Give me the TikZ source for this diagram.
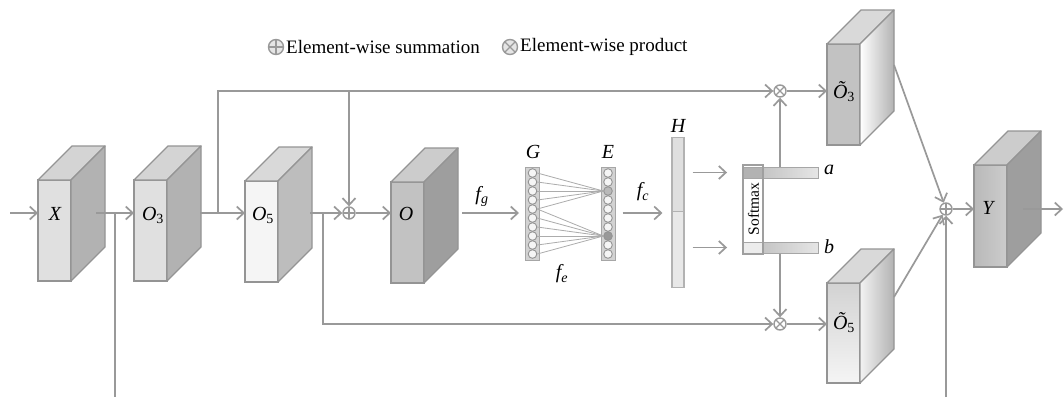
\documentclass[tikz,border=0pt]{standalone}
\usepackage{fontspec}
\setmainfont{Liberation Serif}
\usetikzlibrary{arrows.meta,calc}
\definecolor{lc}{gray}{0.60}
\definecolor{ec}{gray}{0.58}
\definecolor{fa}{gray}{0.88}
\definecolor{sa}{gray}{0.70}
\definecolor{ta}{gray}{0.83}
\definecolor{fb}{gray}{0.96}
\definecolor{sb}{gray}{0.74}
\definecolor{tb}{gray}{0.85}
\definecolor{fo}{gray}{0.76}
\definecolor{so}{gray}{0.62}
\definecolor{to}{gray}{0.80}
\tikzset{
 ln/.style={draw=lc, line width=1.7pt},
 arr/.style={ln, -{Straight Barb[length=7pt,width=13pt]}},
 front/.style={draw=ec, line width=1.3pt, minimum width=33pt, inner sep=0pt, outer sep=0pt, anchor=north west},
 face/.style={draw=ec, line width=1.3pt, line join=round},
 lbl/.style={font=\fontsize{20}{24}\selectfont\itshape, inner sep=1pt},
 lgd/.style={font=\fontsize{19}{22}\selectfont, inner sep=0pt, anchor=west},
 sumop/.style={circle, draw=lc, line width=1.4pt, minimum size=12pt, inner sep=0pt, fill=white,
   path picture={\draw[lc,line width=1.3pt] (path picture bounding box.north) -- (path picture bounding box.south)
   (path picture bounding box.west) -- (path picture bounding box.east);}},
 prodop/.style={circle, draw=lc, line width=1.4pt, minimum size=12pt, inner sep=0pt, fill=white,
   path picture={\draw[lc,line width=1.3pt] (path picture bounding box.north west) -- (path picture bounding box.south east)
   (path picture bounding box.north east) -- (path picture bounding box.south west);}},
 col/.style={draw=gray!70, fill=gray!35, line width=1pt, minimum width=14pt, minimum height=93pt, inner sep=0pt},
 neur/.style={circle, draw=gray!85, fill=white!92!gray, line width=0.9pt, minimum size=8.6pt, inner sep=0pt},
 wire/.style={draw=gray!65, line width=0.8pt},
 hbar/.style={draw=gray!60, line width=1.1pt, minimum width=12pt, inner sep=0pt},
 sbar/.style={draw=gray!70, line width=1pt, minimum width=75pt, minimum height=11pt, inner sep=0pt, left color=gray!55, right color=gray!20},
}
\newcommand{\cubebox}[7]{%
 \node[front, minimum height=#4pt, #5] (#1) at (#2,#3) {};
 \path[face, #7] (#1.north west) -- ++(34,-34) -- ++(33,0) -- (#1.north east) -- cycle;
 \path[face, #6] (#1.north east) -- ++(34,-34) -- ++(0,#4) -- (#1.south east) -- cycle;
}
\begin{document}
\begin{tikzpicture}[x=1pt,y=-1pt]
\fill[white] (0,0) rectangle (1064,397);
\useasboundingbox (0,0) rectangle (1064,397);

% legend
\node[sumop, minimum size=15pt, fill=gray!20] (lg1) at (276,47) {};
\node[lgd] (lt1) at (286,47) {Element-wise summation};
\node[prodop, minimum size=15pt, fill=gray!20] (lg2) at (510,47) {};
\node[lgd] (lt2) at (520,47) {Element-wise product};

% helper coordinates
\coordinate (row) at (0,213);
\coordinate (inp) at (10,213);
\coordinate (v1) at (115,213);
\coordinate (v1b) at (115,397);
\coordinate (b1) at (218,213);
\coordinate (b2) at (323,213);
\coordinate (v2) at (946,397);
\coordinate (out) at (1063,209);

% cubes
\cubebox{X}{38}{180}{101}{fill=fa}{fill=sa}{fill=ta}
\cubebox{O3}{134}{180}{101}{fill=fa}{fill=sa}{fill=ta}
\cubebox{O5}{245}{181}{101}{fill=fb}{fill=sb}{fill=tb}
\cubebox{O}{391}{182}{101}{fill=fo}{fill=so}{fill=to}
\cubebox{T3}{827}{44}{101}{fill=fo}{left color=white,right color=gray!60}{fill=tb}
\cubebox{T5}{827}{283}{100}{top color=gray!35,bottom color=gray!8}{left color=gray!10,right color=gray!60}{fill=tb}
\cubebox{Y}{974}{165}{102}{left color=gray!55,right color=gray!40}{fill=so}{fill=to}

% labels
\node[lbl] (lX) at (55,214) {X};
\node[lbl] (lO3) at (153,215) {O{\upshape\textsubscript{3}}};
\node[lbl] (lO5) at (263,215) {O{\upshape\textsubscript{5}}};
\node[lbl] (lO) at (406,214) {O};
\node[lbl] (lT3) at (844,92) {Õ{\upshape\textsubscript{3}}};
\node[lbl] (lT5) at (844,323) {Õ{\upshape\textsubscript{5}}};
\node[lbl] (lY) at (988,208) {Y};

% operators
\node[prodop] (p1) at (780,91) {};
\node[prodop] (p2) at (780,324) {};
\node[sumop] (s1) at (349,213) {};
\node[sumop] (s2) at (946,209) {};

% G and E layers
\node[col] (G) at (532.5,213.5) {};
\node[col] (E) at (608,213.5) {};
\foreach \i in {1,...,10} {
  \node[neur] (g\i) at (532.5,{173+9*(\i-1)}) {};
}
\foreach \i in {1,2,4,5,6,7,9,10} {
  \node[neur] (e\i) at (608,{173+9*(\i-1)}) {};
}
\node[neur, fill=gray!55] (e3) at (608,191) {};
\node[neur, fill=gray!80] (e8) at (608,236) {};
\foreach \i in {1,...,5} { \draw[wire] (g\i.east) -- (e3.west); }
\foreach \i in {5,...,10} { \draw[wire] (g\i.east) -- (e8.west); }
\node[lbl] (lG) at (533,152) {G};
\node[lbl] (lE) at (608,152) {E};
\node[lbl] (lfg) at (482,196) {f\textsubscript{g}};
\node[lbl] (lfe) at (562,274) {f\textsubscript{e}};
\node[lbl] (lfc) at (643,192) {f\textsubscript{c}};

% H
\node[hbar, fill=gray!25, minimum height=74pt, anchor=north] (H1) at (678,137) {};
\node[hbar, fill=gray!18, minimum height=76pt, anchor=north] (H2) at (678,211) {};
\node[lbl] (lH) at (678,126) {H};

% softmax
\node[draw=none, fill=white, minimum width=20pt, minimum height=89pt, inner sep=0pt] (smf) at (753,209.5) {};
\node[sbar] (abar) at (780.5,172.5) {};
\node[sbar] (bbar) at (780.5,247.5) {};
\node[draw=gray!70, fill=gray!60, minimum width=20pt, minimum height=11pt, inner sep=0pt] (aband) at (753,172.5) {};
\node[draw=gray!70, fill=gray!15, minimum width=20pt, minimum height=11pt, inner sep=0pt] (bband) at (753,247.5) {};
\node[draw=gray!75, line width=1.9pt, minimum width=20pt, minimum height=89pt, inner sep=0pt] (sm) at (753,209.5) {};
\node[rotate=90, font=\fontsize{15.5}{18}\selectfont, inner sep=0pt] (smt) at (753.5,209) {Softmax};
\node[lbl] (la) at (829,170) {a};
\node[lbl] (lb) at (829,247) {b};

% connectors
\draw[arr] (inp) -- (X.west |- row);
\draw[arr] ($(X.east |- row)+(25,0)$) -- (O3.west |- row);
\draw[ln] (v1) -- (v1b);
\draw[arr] ($(O3.east |- row)+(33,0)$) -- (O5.west |- row);
\draw[arr] (b1) |- (p1.west);
\draw[arr] (s1 |- p1) -- (s1.north);
\draw[arr] ($(O5.east |- row)+(32,0)$) -- (s1.west);
\draw[arr] (b2) |- (p2.west);
\draw[arr] (s1.east) -- (O.west |- row);
\draw[arr] ($(O.east |- row)+(38,0)$) -- ($(G.west |- row)+(-6,0)$);
\draw[arr] ($(E.east |- row)+(7,0)$) -- ($(H2.west |- row)+(-9,0)$);
\draw[arr] ($(H1.east |- abar)+(8,0)$) -- ($(sm.west |- abar)+(-15,0)$);
\draw[arr] ($(H2.east |- bbar)+(8,0)$) -- ($(sm.west |- bbar)+(-15,0)$);
\draw[arr] (abar.north -| p1) -- (p1.south);
\draw[arr] (bbar.south -| p2) -- (p2.north);
\draw[arr] (p1.east) -- (T3.west |- p1);
\draw[arr] (p2.east) -- (T5.west |- p2);
\draw[arr] ($(T3.north east)+(34,21)$) -- (s2);
\draw[arr] ($(T5.north east)+(34,14)$) -- (s2);
\draw[arr] (v2) -- (s2.south);
\draw[arr] (s2.east) -- (Y.west |- s2);
\draw[arr] ($(Y.east |- s2)+(16,0)$) -- (out);
\end{tikzpicture}
\end{document}
